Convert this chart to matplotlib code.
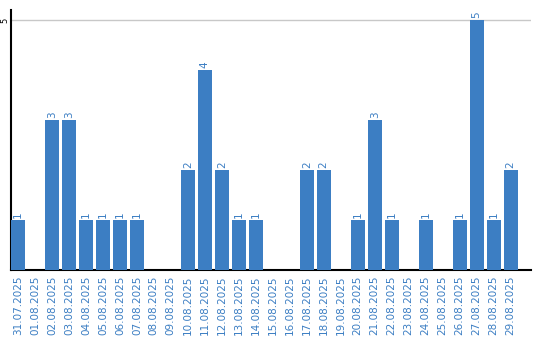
import matplotlib
matplotlib.use("Agg")
import matplotlib.pyplot as plt

dates = ["31.07.2025", "01.08.2025", "02.08.2025", "03.08.2025", "04.08.2025",
         "05.08.2025", "06.08.2025", "07.08.2025", "08.08.2025", "09.08.2025",
         "10.08.2025", "11.08.2025", "12.08.2025", "13.08.2025", "14.08.2025",
         "15.08.2025", "16.08.2025", "17.08.2025", "18.08.2025", "19.08.2025",
         "20.08.2025", "21.08.2025", "22.08.2025", "23.08.2025", "24.08.2025",
         "25.08.2025", "26.08.2025", "27.08.2025", "28.08.2025", "29.08.2025"]
counts = [1, 0, 3, 3, 1, 1, 1, 1, 0, 0,
          2, 4, 2, 1, 1, 0, 0, 2, 2, 0,
          1, 3, 1, 0, 1, 0, 1, 5, 1, 2]

blue = "#3c7ec3"

fig = plt.figure(figsize=(5.4, 3.4), dpi=100)
ax = fig.add_axes([11 / 540, 70 / 340, 520 / 540, 260 / 340])

x = list(range(len(dates)))
ax.bar(x, counts, width=0.82, color=blue, zorder=3)

for xi, v in zip(x, counts):
    if v > 0:
        ax.text(xi, v + 0.04, str(v), rotation=90, ha="center", va="bottom",
                fontsize=7.5, color=blue)

ax.set_xlim(-0.41, 30.2)
ax.set_ylim(0, 5.2)
ax.set_yticks([5])
ax.set_yticklabels(["5"], rotation=90, va="center", fontsize=6)
ax.tick_params(axis="y", length=0, pad=1.5)
ax.yaxis.grid(True, color="#c8c8c8", linewidth=1, zorder=0)

ax.set_xticks(x)
ax.set_xticklabels(dates, rotation=90, fontsize=7.5, color=blue)
ax.tick_params(axis="x", length=0, pad=4)

for side in ["top", "right"]:
    ax.spines[side].set_visible(False)
ax.spines["left"].set_linewidth(1.5)
ax.spines["bottom"].set_linewidth(1.5)

fig.savefig("out.png", dpi=100)
